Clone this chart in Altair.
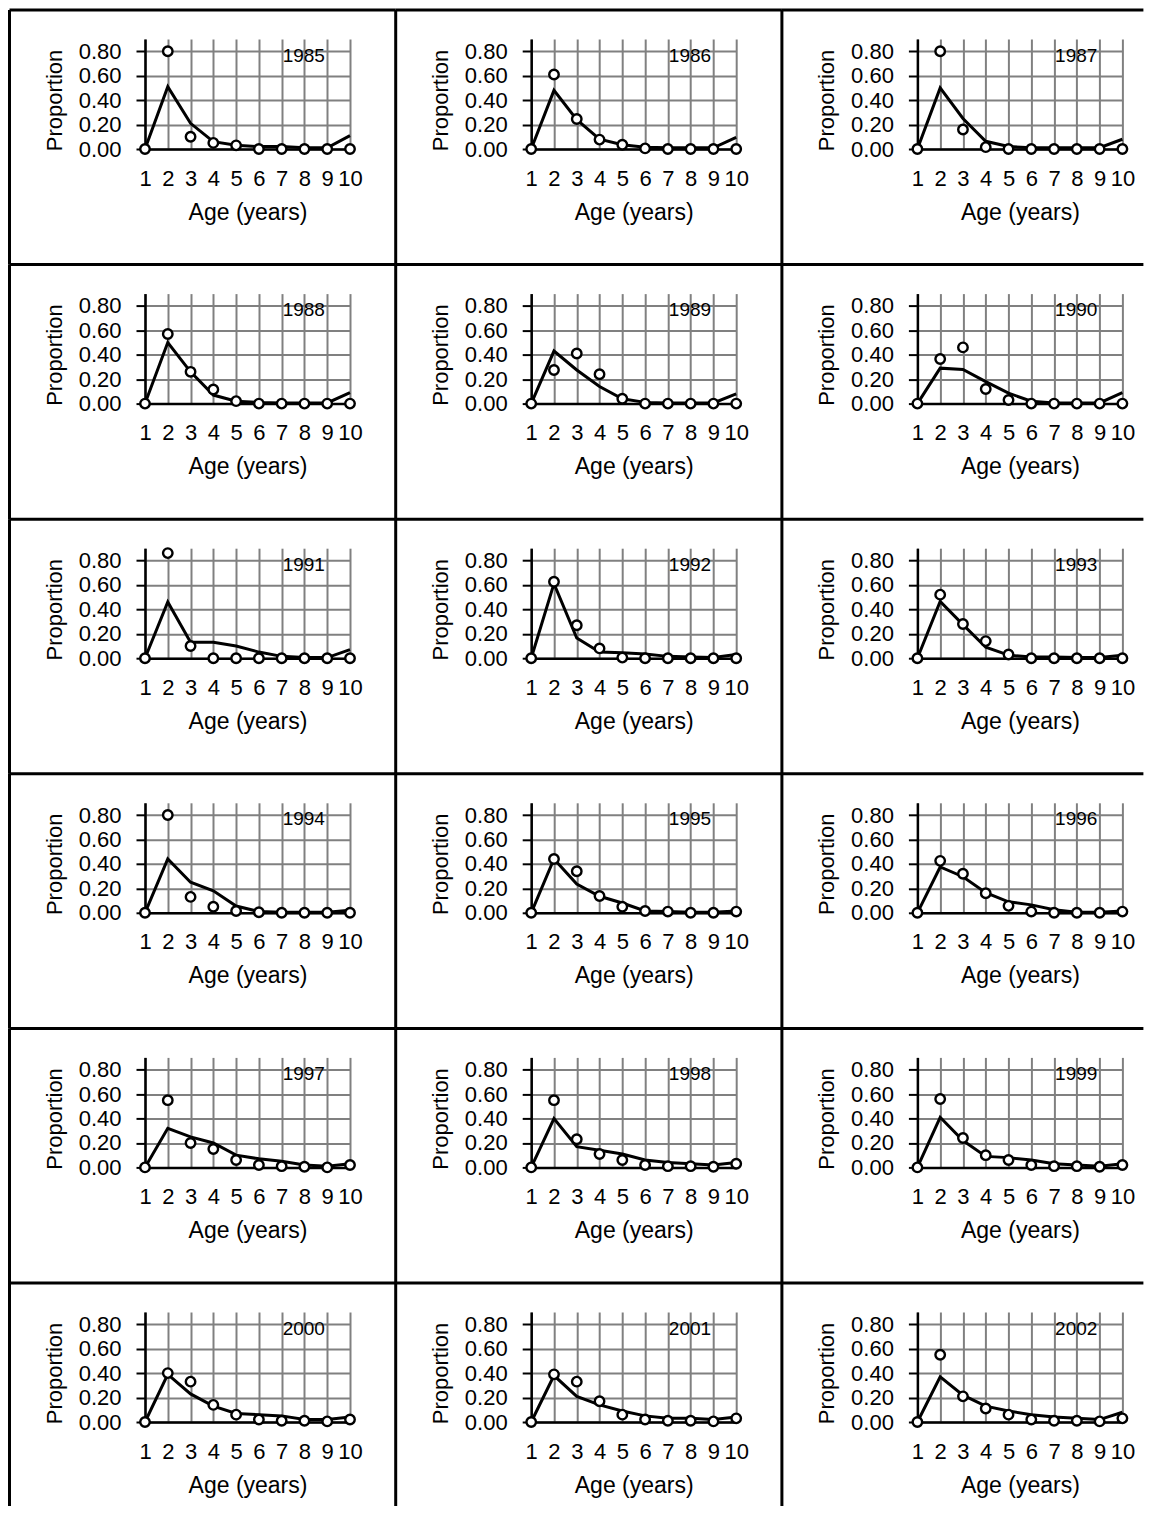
import altair as alt
import pandas as pd

ages = [1, 2, 3, 4, 5, 6, 7, 8, 9, 10]
years = [1985, 1986, 1987, 1988, 1989, 1990, 1991, 1992, 1993,
         1994, 1995, 1996, 1997, 1998, 1999, 2000, 2001, 2002]
y_ticks = [0.0, 0.2, 0.4, 0.6, 0.8]

# predicted proportions (line) and observed proportions (circles), by age 1..10
pred_1985 = [0, 0.51, 0.21, 0.06, 0.03, 0.02, 0.02, 0.01, 0.01, 0.11]
obs_1985 = [0, 0.80, 0.10, 0.05, 0.03, 0, 0, 0, 0, 0]
pred_1986 = [0, 0.48, 0.24, 0.08, 0.035, 0.015, 0.01, 0.01, 0.01, 0.095]
obs_1986 = [0, 0.61, 0.245, 0.077, 0.035, 0.005, 0, 0, 0, 0]
pred_1987 = [0, 0.50, 0.25, 0.063, 0.02, 0.01, 0.01, 0.01, 0.01, 0.08]
obs_1987 = [0, 0.80, 0.16, 0.015, 0, 0, 0, 0, 0, 0]
pred_1988 = [0, 0.50, 0.26, 0.07, 0.02, 0.01, 0.005, 0.005, 0.005, 0.09]
obs_1988 = [0, 0.57, 0.26, 0.115, 0.02, 0, 0, 0, 0, 0]
pred_1989 = [0, 0.43, 0.275, 0.14, 0.04, 0.01, 0.005, 0.005, 0.005, 0.08]
obs_1989 = [0, 0.275, 0.41, 0.24, 0.04, 0, 0, 0, 0, 0]
pred_1990 = [0, 0.29, 0.28, 0.18, 0.085, 0.02, 0.005, 0.005, 0.005, 0.09]
obs_1990 = [0, 0.365, 0.46, 0.12, 0.03, 0, 0, 0, 0, 0]
pred_1991 = [0, 0.46, 0.13, 0.13, 0.10, 0.05, 0.015, 0.005, 0.005, 0.07]
obs_1991 = [0, 0.86, 0.10, 0, 0, 0, 0, 0, 0, 0]
pred_1992 = [0, 0.61, 0.165, 0.05, 0.045, 0.035, 0.015, 0.01, 0.005, 0.03]
obs_1992 = [0, 0.625, 0.27, 0.08, 0.005, 0, 0, 0, 0, 0]
pred_1993 = [0, 0.465, 0.275, 0.09, 0.025, 0.01, 0.01, 0.005, 0.005, 0.025]
obs_1993 = [0, 0.52, 0.28, 0.14, 0.03, 0, 0, 0, 0, 0]
pred_1994 = [0, 0.44, 0.25, 0.18, 0.055, 0.01, 0.005, 0.005, 0.005, 0.02]
obs_1994 = [0, 0.80, 0.13, 0.05, 0.015, 0.005, 0, 0, 0, 0]
pred_1995 = [0, 0.44, 0.235, 0.135, 0.08, 0.015, 0.01, 0.005, 0.005, 0.015]
obs_1995 = [0, 0.44, 0.34, 0.137, 0.05, 0.015, 0.01, 0, 0, 0.01]
pred_1996 = [0, 0.375, 0.295, 0.165, 0.09, 0.065, 0.025, 0.005, 0.005, 0.015]
obs_1996 = [0, 0.425, 0.32, 0.16, 0.057, 0.01, 0, 0, 0, 0.01]
pred_1997 = [0, 0.32, 0.25, 0.20, 0.10, 0.07, 0.05, 0.02, 0.01, 0.03]
obs_1997 = [0, 0.55, 0.20, 0.15, 0.06, 0.02, 0.01, 0.005, 0, 0.02]
pred_1998 = [0, 0.40, 0.17, 0.14, 0.11, 0.06, 0.04, 0.03, 0.02, 0.04]
obs_1998 = [0, 0.55, 0.23, 0.11, 0.06, 0.02, 0.01, 0.01, 0.005, 0.03]
pred_1999 = [0, 0.41, 0.22, 0.09, 0.08, 0.06, 0.03, 0.02, 0.01, 0.03]
obs_1999 = [0, 0.56, 0.24, 0.10, 0.06, 0.02, 0.01, 0.01, 0.005, 0.02]
pred_2000 = [0, 0.39, 0.23, 0.13, 0.07, 0.06, 0.05, 0.02, 0.02, 0.04]
obs_2000 = [0, 0.40, 0.33, 0.14, 0.06, 0.02, 0.01, 0.01, 0.005, 0.02]
pred_2001 = [0, 0.38, 0.21, 0.14, 0.09, 0.05, 0.03, 0.03, 0.02, 0.04]
obs_2001 = [0, 0.39, 0.33, 0.17, 0.06, 0.02, 0.01, 0.01, 0.005, 0.03]
pred_2002 = [0, 0.37, 0.22, 0.13, 0.09, 0.06, 0.04, 0.03, 0.02, 0.08]
obs_2002 = [0, 0.55, 0.21, 0.11, 0.06, 0.02, 0.01, 0.01, 0.005, 0.03]

series = {
    1985: (pred_1985, obs_1985), 1986: (pred_1986, obs_1986), 1987: (pred_1987, obs_1987),
    1988: (pred_1988, obs_1988), 1989: (pred_1989, obs_1989), 1990: (pred_1990, obs_1990),
    1991: (pred_1991, obs_1991), 1992: (pred_1992, obs_1992), 1993: (pred_1993, obs_1993),
    1994: (pred_1994, obs_1994), 1995: (pred_1995, obs_1995), 1996: (pred_1996, obs_1996),
    1997: (pred_1997, obs_1997), 1998: (pred_1998, obs_1998), 1999: (pred_1999, obs_1999),
    2000: (pred_2000, obs_2000), 2001: (pred_2001, obs_2001), 2002: (pred_2002, obs_2002),
}

FONT = "Liberation Sans"
GRID = "#808080"
W, H = 205, 110
PITCH_X, PITCH_Y = 386.2, 254.6
LEFT = -135.5   # panel border, relative to plot origin
TOP = -29.0

one = pd.DataFrame({"k": [0]})

X_AXIS = alt.Axis(values=ages, tickCount=10, format="d", title="Age (years)",
                  grid=True, gridColor=GRID, gridWidth=2,
                  ticks=False, tickSize=0, labelPadding=36,
                  labelBaseline="alphabetic", labelFlush=False,
                  labelOverlap=False, labelFontSize=22,
                  titleFontSize=23, titleY=70, titleBaseline="alphabetic",
                  domainColor="black", domainWidth=2.5)
Y_AXIS = alt.Axis(values=y_ticks, tickCount=5, format=".2f", title="Proportion",
                  grid=True, gridColor=GRID, gridWidth=2,
                  tickSize=9, tickWidth=2, tickColor="black",
                  labelPadding=15, labelFlush=False, labelOverlap=False,
                  labelFontSize=22, titleFontSize=22,
                  titleX=-84, titleY=61, titleAngle=-90,
                  titleAlign="center", titleBaseline="alphabetic",
                  domainColor="black", domainWidth=2.5)
X_SCALE = alt.Scale(domain=[1, 10], nice=False, zero=False)
Y_SCALE = alt.Scale(domain=[0, 0.9], nice=False)


def x_enc():
    return alt.X("age:Q", scale=X_SCALE, axis=X_AXIS)


def y_enc(field):
    return alt.Y(f"{field}:Q", scale=Y_SCALE, axis=Y_AXIS)


panels = []
for i, yr in enumerate(years):
    row, col = divmod(i, 3)
    p, o = series[yr]
    df = pd.DataFrame({"age": ages, "pred": p, "obs": o})
    lab = pd.DataFrame({"age": [8.9], "val": [0.765], "txt": [str(yr)]})
    right = LEFT + PITCH_X if col < 2 else 226
    bottom = TOP + PITCH_Y if row < 5 else 194

    line = alt.Chart(df).mark_line(color="black", strokeWidth=3).encode(
        x=x_enc(), y=y_enc("pred"))
    pts = alt.Chart(df).mark_point(shape="circle", filled=True, fill="white",
                                   stroke="black", strokeWidth=2.4, size=90,
                                   opacity=1).encode(x=x_enc(), y=y_enc("obs"))
    label = alt.Chart(lab).mark_text(align="right", baseline="middle",
                                     font=FONT, fontSize=19, color="black").encode(
        x=x_enc(), y=y_enc("val"), text="txt:N")
    top_rule = alt.Chart(one).mark_rule(color="black", strokeWidth=3).encode(
        x=alt.value(LEFT), x2=alt.value(right), y=alt.value(TOP))
    left_rule = alt.Chart(one).mark_rule(color="black", strokeWidth=3).encode(
        x=alt.value(LEFT), y=alt.value(TOP), y2=alt.value(bottom))
    panels.append(alt.layer(line, pts, label, top_rule, left_rule).properties(
        width=W, height=H))

chart = alt.concat(*panels, columns=3, bounds="flush",
                   spacing={"row": PITCH_Y - H, "column": PITCH_X - W}).properties(
    padding=0, background="white"
).configure_view(stroke=None).configure_axis(
    labelFont=FONT, titleFont=FONT, labelColor="black", titleColor="black",
    titleFontWeight="normal"
)

chart.save("out.html", embed_options={"renderer": "svg", "actions": False})
